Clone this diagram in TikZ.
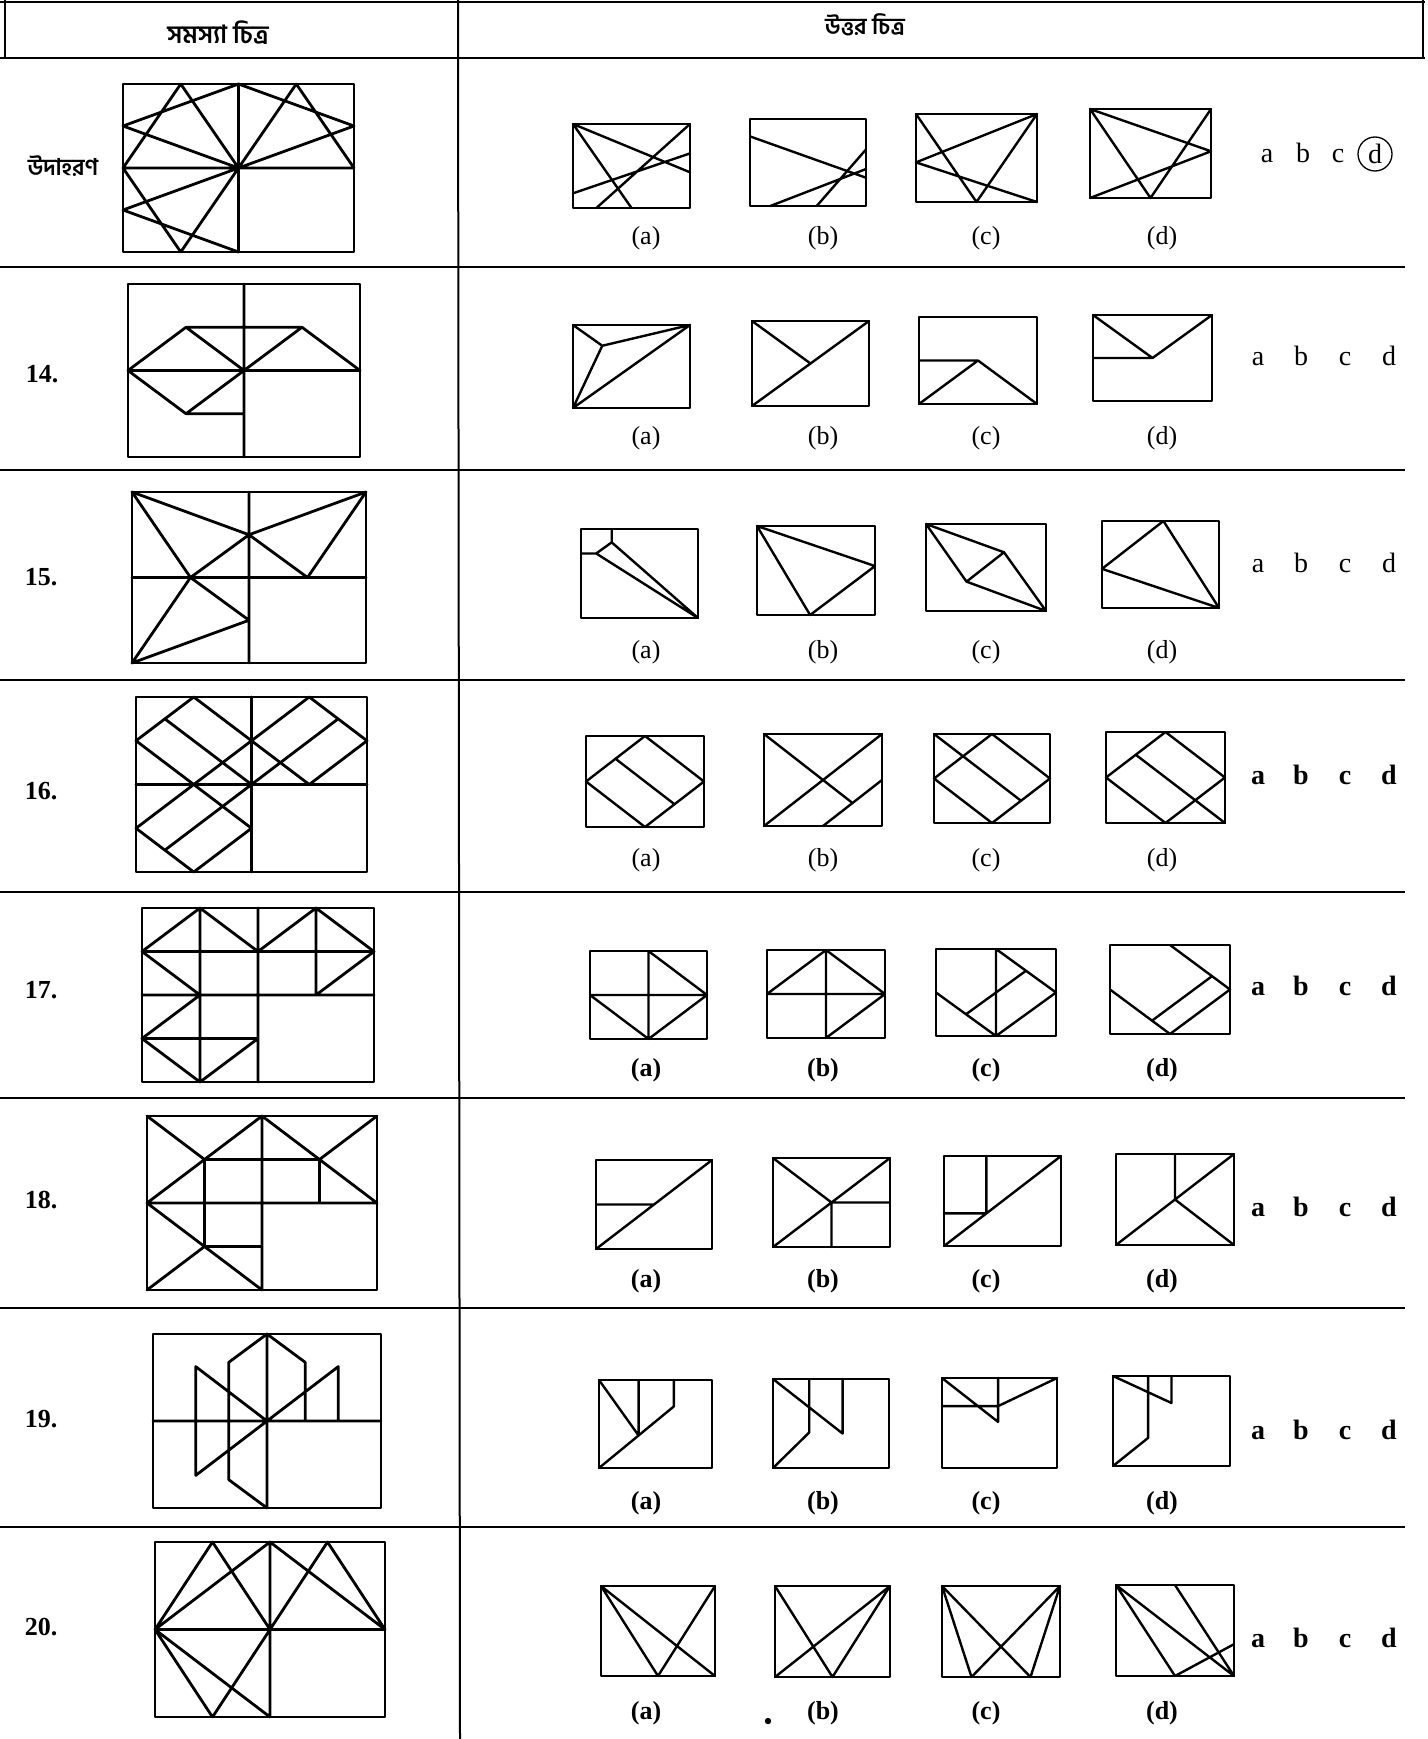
\documentclass[tikz,border=0pt]{standalone}
\usepackage{fontspec}
\setmainfont{Liberation Serif}
\newfontfamily\bn[Script=Bengali]{Hind Siliguri}
\newcommand\Fig[5]{\begin{scope}[shift={(#1,#2)},xscale={(#3-#1)/4},yscale={(#4-#2)/4}]\draw[ln] (0,0) rectangle (4,4); \draw[ln] #5; \end{scope}}
\newcommand\QFig[5]{\begin{scope}[shift={(#1,#2)},xscale={(#3-#1)/4},yscale={(#4-#2)/4}]\draw[qln] (0,0) rectangle (4,4); \draw[qln] #5; \end{scope}}
\begin{document}
\begin{tikzpicture}[x=1pt,y=-1pt,
  ln/.style={line width=2.4pt,line cap=round,line join=round},
  qln/.style={line width=2.8pt,line cap=round,line join=round},
  tbl/.style={line width=2pt},
  hdr/.style={font=\bn\fontsize{25}{27}\selectfont\bfseries},
  qnum/.style={font=\fontsize{26}{28}\selectfont\bfseries},
  lab/.style={font=\fontsize{26}{28}\selectfont},
  labb/.style={font=\fontsize{26}{28}\selectfont\bfseries},
  let/.style={font=\fontsize{28}{30}\selectfont,anchor=base},
  letb/.style={font=\fontsize{28}{30}\selectfont\bfseries,anchor=base}]
\useasboundingbox (0,0) rectangle (1427,1739);
\fill[white] (0,0) rectangle (1427,1739);
% table
\draw[tbl] (0,2) -- (1425,2);
\draw[tbl] (0,58) -- (1425,58);
\draw[tbl] (5,0) -- (5,58);
\draw[tbl] (1423,0) -- (1423,58);
\draw[tbl] (458,0) -- (460,1739);
\foreach \yy in {267,470,680,892,1098,1308,1527} \draw[tbl] (0,\yy) -- (1405,\yy);
\node[hdr] (h1) at (218,33) {সমস্যা চিত্র};
\node[hdr,font=\bn\fontsize{23}{25}\selectfont\bfseries] (h2) at (865,25) {উত্তর চিত্র};
% row labels
\node[font=\bn\fontsize{23}{25}\selectfont\bfseries] (qex) at (63,166) {উদাহরণ};
\node[qnum] (q14) at (42,374) {14.};
\node[qnum] (q15) at (41,577) {15.};
\node[qnum] (q16) at (41,791) {16.};
\node[qnum] (q17) at (41,990) {17.};
\node[qnum] (q18) at (41,1200) {18.};
\node[qnum] (q19) at (41,1419) {19.};
\node[qnum] (q20) at (41,1627) {20.};
% ---------- example
\QFig{123}{84}{354}{252}{(2,0)--(2,4) (0,2)--(4,2) (1,0)--(2,2) (1,0)--(0,2) (2,0)--(0,1) (2,0)--(4,1) (3,0)--(2,2) (3,0)--(4,2) (0,1)--(2,2) (4,1)--(2,2) (0,2)--(1,4) (0,3)--(2,2) (0,3)--(2,4) (1,4)--(2,2)}
\Fig{573}{124}{690}{208}{(0,0)--(2,4) (0,0)--(4,2.3) (4,0)--(0.8,4) (0,3.3)--(4,1.4)}
\Fig{750}{119}{866}{206}{(0,0.8)--(4,2.7) (0.7,4)--(4,2.3) (2.3,4)--(4,1.4)}
\Fig{916}{114}{1037}{202}{(4,0)--(0,2.2)--(4,4) (0,0)--(2,4)--(4,0)}
\Fig{1090}{109}{1211}{198}{(0,0)--(2,4)--(4,0) (0,0)--(4,1.9)--(0,4)}
% ---------- 14
\QFig{128}{284}{360}{457}{(2,0)--(2,4) (0,2)--(4,2) (0,2)--(1,1)--(3,1)--(4,2) (1,1)--(2,2)--(3,1) (0,2)--(1,3)--(2,2) (1,3)--(2,3)}
\Fig{573}{325}{690}{408}{(0,0)--(1,1)--(4,0) (1,1)--(0,4)--(4,0)}
\Fig{752}{321}{869}{406}{(0,0)--(2,2) (0,4)--(4,0)}
\Fig{919}{317}{1037}{404}{(0,2)--(2,2) (0,4)--(2,2)--(4,4)}
\Fig{1093}{315}{1212}{401}{(0,0)--(2,2)--(4,0) (0,2)--(2,2)}
% ---------- 15
\QFig{132}{492}{366}{663}{(2,0)--(2,4) (0,2)--(4,2) (0,0)--(2,1)--(4,0)--(3,2)--(2,1) (0,0)--(1,2)--(2,1) (0,4)--(1,2)--(2,3)--(0,4)}
\Fig{581}{529}{698}{618}{(1.05,0)--(1.05,0.6)--(0.52,1.1)--(0,1.1) (1.05,0.6)--(4,4)--(0.52,1.1)}
\Fig{757}{526}{875}{615}{(0,0)--(4,1.8)--(1.8,4)--(0,0)}
\Fig{926}{524}{1046}{611}{(0,0)--(2.6,1.3)--(4,4)--(1.35,2.65)--(0,0) (2.6,1.3)--(1.35,2.65)}
\Fig{1102}{521}{1219}{608}{(2.1,0)--(0,2.2)--(4,4)--(2.1,0)}
% ---------- 16
\QFig{136}{697}{367}{872}{(2,0)--(2,4) (0,2)--(4,2) (1,0)--(2,1)--(1,2)--(0,1)--cycle (0.5,0.5)--(2,2) (3,0)--(4,1)--(3,2)--(2,1)--cycle (3.5,0.5)--(2,2) (1,2)--(2,3)--(1,4)--(0,3)--cycle (2,2)--(0.5,3.5)}
\Fig{586}{736}{704}{827}{(2,0)--(4,2)--(2,4)--(0,2)--cycle (1,1)--(3,3)}
\Fig{764}{734}{882}{826}{(0,0)--(3,3) (0,4)--(4,0) (2,4)--(4,2)}
\Fig{934}{734}{1050}{823}{(2,0)--(4,2)--(2,4)--(0,2)--cycle (0,0)--(3,3)}
\Fig{1106}{732}{1225}{823}{(2,0)--(4,2)--(2,4)--(0,2)--cycle (1,1)--(4,4)}
% ---------- 17
\QFig{142}{908}{374}{1082}{(2,0)--(2,4) (0,1)--(4,1) (0,2)--(4,2) (0,3)--(2,3) (1,0)--(1,4) (3,0)--(3,2) (0,1)--(1,0)--(2,1)--(3,0)--(4,1)--(3,2) (0,1)--(1,2)--(0,3)--(1,4)--(2,3)}
\Fig{590}{951}{707}{1039}{(2,0)--(2,4) (0,2)--(4,2) (2,0)--(4,2)--(2,4)--(0,2)}
\Fig{767}{950}{885}{1038}{(2,0)--(2,4) (0,2)--(4,2) (0,2)--(2,0)--(4,2)--(2,4)}
\Fig{936}{949}{1056}{1036}{(2,0)--(2,4) (2,0)--(4,2)--(2,4)--(0,2) (3,1)--(1,3)}
\Fig{1110}{945}{1230}{1034}{(2,0)--(4,2)--(2,4)--(0,2) (3.4,1.4)--(1.4,3.4)}
% ---------- 18
\QFig{147}{1116}{377}{1290}{(2,0)--(2,4) (0,2)--(4,2) (0,0)--(1,1) (0,2)--(2,0) (1,1)--(3,1) (1,1)--(1,3) (2,0)--(3,1)--(4,0) (3,1)--(4,2) (3,1)--(3,2) (0,2)--(1,3)--(0,4) (1,3)--(2,4) (1,3)--(2,3)}
\Fig{596}{1160}{712}{1249}{(0,4)--(4,0) (0,2)--(2,2)}
\Fig{773}{1158}{890}{1247}{(0,0)--(2,2) (0,4)--(4,0) (2,2)--(4,2) (2,2)--(2,4)}
\Fig{944}{1156}{1061}{1246}{(0,4)--(4,0) (1.45,0)--(1.45,2.55)--(0,2.55)}
\Fig{1116}{1154}{1234}{1245}{(2,0)--(2,2) (0,4)--(4,0) (2,2)--(4,4)}
% ---------- 19
\QFig{153}{1334}{381}{1508}{(2,0)--(2,4) (0,2)--(4,2) (0.75,0.75)--(2,2) (0.75,0.75)--(0.75,3.25)--(3.25,0.75)--(3.25,2) (2,0)--(1.33,0.65)--(1.33,3.35)--(2,4) (2,0)--(2.67,0.65)--(2.67,2)}
\Fig{599}{1380}{712}{1468}{(0,0)--(1.4,2.52) (1.4,0)--(1.4,2.52) (2.65,0)--(2.65,1.2)--(0,4)}
\Fig{773}{1379}{889}{1468}{(0,0)--(2.4,2.45) (1.25,0)--(1.25,2.4)--(0,4) (2.4,0)--(2.4,2.45)}
\Fig{942}{1378}{1057}{1468}{(0,0)--(1.95,1.95) (1.95,0)--(1.95,1.95) (0,1.25)--(1.95,1.25)--(4,0)}
\Fig{1113}{1376}{1230}{1466}{(0,0)--(2,1.2) (2,0)--(2,1.2) (1.2,0)--(1.2,2.75)--(0,4)}
% ---------- 20
\QFig{155}{1542}{385}{1717}{(2,0)--(2,4) (0,2)--(4,2) (0,2)--(1,0)--(2,2) (0,2)--(2,0)--(4,2)--(3,0)--(1,4) (0,2)--(1,4) (0,2)--(2,4)}
\Fig{601}{1586}{715}{1676}{(0,0)--(2,4)--(4,0) (0,0)--(4,4)}
\Fig{775}{1586}{890}{1677}{(0,0)--(2,4)--(4,0) (0,4)--(4,0)}
\Fig{942}{1586}{1060}{1677}{(0,0)--(1,4)--(4,0) (0,0)--(3,4)--(4,0)}
\Fig{1116}{1585}{1234}{1676}{(0,0)--(2,4) (0,0)--(4,4) (2,0)--(4,4) (2,4)--(4,2.6)}
\fill (768,1721) circle (3.2);
% ---------- answer labels
\foreach \yy/\st [count=\r] in {238/lab,438/lab,652/lab,860/lab,1070/labb,1281/labb,1503/labb,1713/labb}{
  \node[\st] (la\r) at (646,\yy) {(a)};
  \node[\st] (lb\r) at (823,\yy) {(b)};
  \node[\st] (lc\r) at (986,\yy) {(c)};
  \node[\st] (ld\r) at (1162,\yy) {(d)};
}
% ---------- choice letters
\node[let] (ca1) at (1267,163) {a};
\node[let] (cb1) at (1303,163) {b};
\node[let] (cc1) at (1338,163) {c};
\node[font=\fontsize{28}{30}\selectfont,draw,circle,line width=1.3pt,minimum size=34pt,inner sep=0pt] (cd1) at (1375,154) {d};
\foreach \yy/\st [count=\r from 2] in {365/let,572/let,784/letb,995/letb,1216/letb,1439/letb,1647/letb}{
  \node[\st] (ca\r) at (1258,\yy) {a};
  \node[\st] (cb\r) at (1301,\yy) {b};
  \node[\st] (cc\r) at (1345,\yy) {c};
  \node[\st] (cd\r) at (1389,\yy) {d};
}
\end{tikzpicture}
\end{document}
